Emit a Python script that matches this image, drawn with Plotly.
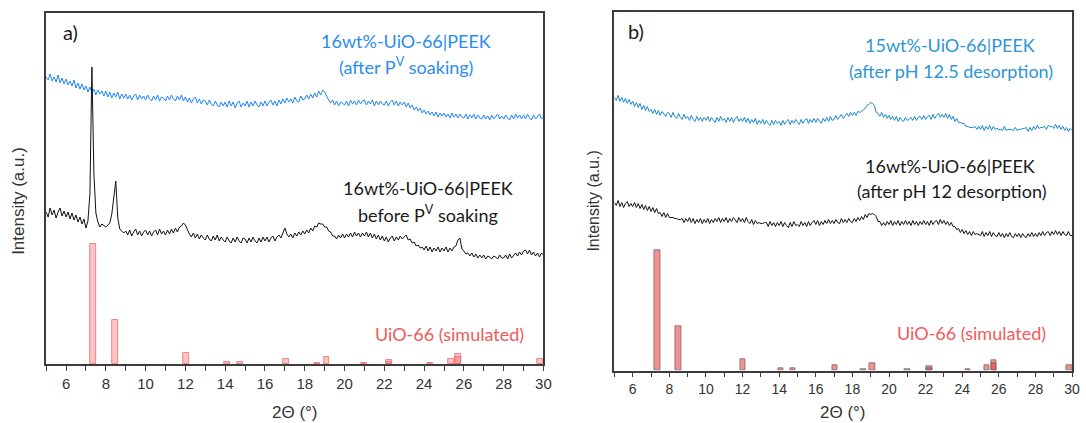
import numpy as np
import plotly.graph_objects as go

W, H = 1086, 423

# 2-theta sampling grid (degrees), 0.1 deg step
two_theta = np.round(np.linspace(5.0, 30.0, 251), 2)

# Panel a: 16wt%-UiO-66|PEEK after P(V) soaking (offset trace, a.u.)
a_after_soak = [
    287, 284, 290, 283, 287, 282, 289, 281, 286, 280,
    285, 279, 283, 278, 284, 276, 281, 275, 280, 274,
    278, 272, 277, 271, 275, 269, 274, 270, 273, 268,
    273, 267, 272, 266, 271, 267, 272, 265, 270, 266,
    270, 265, 269, 264, 268, 270, 264, 269, 265, 268,
    264, 269, 265, 263, 268, 264, 269, 263, 267, 266,
    263, 268, 264, 269, 265, 263, 268, 264, 269, 263,
    267, 262, 266, 261, 265, 267, 261, 265, 260, 264,
    263, 259, 264, 260, 258, 263, 259, 257, 262, 258,
    262, 257, 263, 258, 262, 256, 261, 263, 257, 261,
    258, 263, 257, 262, 258, 263, 259, 257, 262, 258,
    263, 258, 262, 264, 259, 263, 258, 264, 260, 265,
    261, 266, 262, 265, 261, 267, 263, 262, 268, 264,
    265, 269, 265, 270, 266, 271, 267, 273, 269, 274,
    272, 267, 264, 261, 264, 259, 263, 258, 262, 261,
    259, 263, 258, 264, 260, 263, 259, 264, 260, 263,
    264, 259, 263, 260, 264, 258, 263, 259, 263, 260,
    259, 263, 258, 262, 264, 259, 263, 258, 262, 259,
    262, 257, 261, 256, 259, 254, 257, 253, 256, 251,
    254, 250, 253, 249, 252, 248, 252, 247, 251, 248,
    251, 247, 250, 246, 251, 247, 250, 246, 250, 247,
    246, 250, 245, 249, 246, 250, 245, 249, 246, 245,
    249, 245, 248, 244, 249, 245, 248, 250, 245, 248,
    245, 249, 246, 244, 249, 245, 250, 246, 249, 245,
    249, 245, 250, 246, 244, 249, 245, 248, 250, 245,
    247,
]

# Panel a: 16wt%-UiO-66|PEEK before P(V) soaking
a_before_soak = [
    152, 147, 156, 149, 154, 146, 152, 156, 148, 153,
    147, 152, 145, 151, 144, 149, 142, 147, 140, 145,
    136, 143, 170, 297, 190, 151, 142, 137, 140, 138,
    137, 139, 141, 150, 170, 183, 146, 135, 133, 131,
    133, 129, 134, 128, 132, 135, 129, 133, 128, 132,
    134, 129, 133, 128, 132, 134, 129, 135, 130, 133,
    129, 134, 130, 135, 131, 136, 132, 137, 138, 141,
    139, 134, 130, 127, 131, 126, 130, 125, 129, 126,
    124, 129, 125, 123, 128, 124, 129, 123, 127, 124,
    122, 127, 123, 121, 126, 122, 127, 123, 121, 126,
    125, 121, 126, 122, 127, 123, 121, 126, 122, 127,
    123, 127, 122, 126, 128, 123, 127, 129, 126, 131,
    136, 130, 127, 130, 126, 131, 128, 132, 129, 133,
    130, 134, 131, 136, 133, 138, 137, 141, 140, 140,
    137, 137, 133, 132, 128, 128, 125, 129, 126, 130,
    126, 130, 127, 131, 127, 132, 128, 131, 127, 131,
    128, 132, 127, 131, 126, 130, 125, 129, 124, 128,
    123, 127, 122, 126, 128, 123, 127, 124, 128, 125,
    127, 129, 124, 125, 121, 122, 118, 119, 116, 117,
    114, 118, 113, 117, 112, 116, 113, 117, 112, 116,
    113, 117, 112, 116, 113, 117, 118, 124, 126, 115,
    113, 110, 111, 108, 111, 107, 110, 106, 109, 106,
    109, 105, 108, 107, 105, 108, 107, 105, 109, 106,
    106, 109, 105, 110, 106, 109, 111, 108, 112, 109,
    113, 114, 110, 114, 109, 112, 108, 111, 107, 111,
    109,
]

# Panel b: 15wt%-UiO-66|PEEK after pH 12.5 desorption
b_ph125 = [
    273, 270, 275, 269, 273, 268, 272, 267, 271, 266,
    269, 264, 268, 263, 267, 261, 265, 260, 264, 259,
    261, 257, 261, 256, 260, 255, 259, 256, 254, 258,
    257, 253, 258, 254, 252, 257, 253, 251, 256, 252,
    254, 250, 255, 251, 249, 254, 250, 253, 249, 253,
    250, 254, 249, 253, 250, 248, 253, 249, 254, 250,
    252, 248, 253, 249, 253, 248, 252, 254, 249, 252,
    249, 253, 248, 252, 247, 251, 248, 252, 246, 250,
    247, 251, 246, 250, 247, 245, 250, 246, 250, 247,
    249, 245, 250, 246, 249, 251, 246, 250, 247, 251,
    248, 246, 251, 247, 250, 252, 247, 251, 248, 252,
    248, 252, 249, 247, 252, 249, 253, 249, 254, 250,
    251, 255, 251, 254, 256, 252, 255, 257, 254, 258,
    255, 258, 255, 259, 258, 259, 261, 262, 265, 266,
    268, 267, 265, 258, 257, 254, 258, 253, 256, 252,
    255, 251, 254, 250, 254, 249, 253, 250, 249, 253,
    250, 251, 253, 250, 254, 250, 253, 254, 251, 255,
    251, 254, 255, 251, 256, 252, 255, 257, 253, 256,
    253, 257, 252, 256, 251, 254, 249, 252, 248, 248,
    247, 247, 244, 244, 243, 243, 243, 244, 241, 244,
    241, 245, 240, 244, 241, 245, 240, 244, 241, 242,
    241, 241, 240, 244, 240, 241, 241, 241, 240, 243,
    240, 241, 241, 242, 242, 243, 239, 243, 240, 244,
    241, 245, 242, 243, 243, 244, 241, 245, 244, 244,
    242, 246, 242, 245, 241, 244, 240, 243, 239, 242,
    240,
]

# Panel b: 16wt%-UiO-66|PEEK after pH 12 desorption
b_ph12 = [
    168, 165, 170, 164, 168, 163, 167, 169, 164, 167,
    164, 168, 163, 167, 162, 166, 161, 165, 160, 164,
    159, 163, 158, 162, 157, 158, 154, 158, 153, 157,
    153, 153, 153, 152, 152, 151, 151, 152, 148, 152,
    149, 153, 148, 152, 147, 151, 148, 152, 147, 151,
    148, 152, 147, 151, 148, 152, 149, 153, 148, 152,
    149, 153, 148, 152, 149, 153, 150, 148, 153, 149,
    152, 148, 153, 149, 147, 151, 146, 150, 147, 148,
    147, 147, 148, 148, 144, 149, 145, 148, 144, 148,
    145, 149, 144, 148, 145, 143, 148, 144, 149, 145,
    146, 144, 149, 145, 148, 144, 149, 145, 148, 150,
    146, 150, 145, 149, 146, 150, 147, 151, 147, 150,
    147, 151, 148, 147, 152, 148, 151, 148, 152, 149,
    148, 152, 149, 153, 150, 154, 151, 156, 153, 157,
    156, 157, 156, 154, 149, 149, 145, 148, 145, 149,
    146, 150, 145, 149, 146, 150, 145, 149, 146, 150,
    146, 149, 145, 150, 146, 149, 145, 149, 146, 150,
    146, 149, 145, 150, 146, 149, 150, 146, 151, 147,
    150, 146, 149, 145, 148, 144, 144, 141, 142, 138,
    141, 137, 140, 136, 139, 135, 139, 136, 137, 136,
    135, 139, 134, 138, 135, 139, 134, 138, 135, 134,
    138, 134, 137, 133, 137, 134, 138, 134, 133, 137,
    134, 137, 133, 137, 134, 133, 137, 134, 138, 134,
    137, 134, 138, 135, 139, 135, 138, 139, 135, 139,
    136, 140, 136, 139, 135, 139, 136, 135, 139, 135,
    135,
]

# Simulated UiO-66 reflections (position in 2-theta, intensity in a.u.)
sim_pos = [7.35, 8.49, 12.02, 14.1, 14.75, 17.05, 18.6, 19.1, 21.0,
           22.22, 22.22, 24.3, 25.35, 25.72, 25.72, 29.85]
sim_int = [120, 44, 11, 2, 2, 5, 1.5, 7, 1,
           4.5, 2.5, 1, 5, 10, 7.5, 5]

x_ticks_major = [6, 8, 10, 12, 14, 16, 18, 20, 22, 24, 26, 28, 30]

FONT_LABEL = "Lato, 'Open Sans', sans-serif"
FONT_AXIS = "Arial, 'Liberation Sans', sans-serif"


def px_x(p):
    return p / W


def px_y(p):
    return 1 - p / H


fig = go.Figure()

# ---- panel a ----
fig.add_trace(go.Bar(
    x=sim_pos, y=sim_int, width=0.3, xaxis="x", yaxis="y",
    marker=dict(color="rgba(240,70,70,0.32)",
                line=dict(color="rgba(230,120,120,0.85)", width=1)),
    showlegend=False))
fig.add_trace(go.Scatter(
    x=two_theta, y=a_after_soak, mode="lines", xaxis="x", yaxis="y",
    line=dict(color="#1f86f5", width=1), showlegend=False))
fig.add_trace(go.Scatter(
    x=two_theta, y=a_before_soak, mode="lines", xaxis="x", yaxis="y",
    line=dict(color="#111111", width=1), showlegend=False))

# ---- panel b ----
fig.add_trace(go.Bar(
    x=sim_pos, y=sim_int, width=0.3, xaxis="x2", yaxis="y2",
    marker=dict(color="rgba(235,55,55,0.55)",
                line=dict(color="rgba(120,100,100,0.8)", width=1)),
    showlegend=False))
fig.add_trace(go.Scatter(
    x=two_theta, y=b_ph125, mode="lines", xaxis="x2", yaxis="y2",
    line=dict(color="#1b87cc", width=1), showlegend=False))
fig.add_trace(go.Scatter(
    x=two_theta, y=b_ph12, mode="lines", xaxis="x2", yaxis="y2",
    line=dict(color="#111111", width=1), showlegend=False))


def x_axis(domain, anchor, size):
    return dict(
        domain=domain, anchor=anchor, range=[5, 30],
        showline=True, mirror=True, linecolor="#3c3c3c", linewidth=1.5,
        ticks="outside", ticklen=5, tickwidth=1.2, tickcolor="#3c3c3c",
        tickvals=x_ticks_major,
        minor=dict(ticks="outside", ticklen=5, tickwidth=1.2,
                   tickcolor="#3c3c3c", dtick=1, tick0=5),
        tickfont=dict(family=FONT_AXIS, size=size, color="#333333"),
        showgrid=False, zeroline=False, fixedrange=True)


def y_axis(domain, anchor, top):
    return dict(
        domain=domain, anchor=anchor, range=[0, top],
        showline=True, mirror=True, linecolor="#3c3c3c", linewidth=1.5,
        ticks="", showticklabels=False, showgrid=False, zeroline=False)


fig.update_layout(
    width=W, height=H, margin=dict(l=0, r=0, t=0, b=0),
    paper_bgcolor="white", plot_bgcolor="white",
    barmode="overlay", bargap=0,
    xaxis=x_axis([px_x(46.5), px_x(547.5)], "y", 15),
    yaxis=y_axis([px_y(364), px_y(13)], "x", 351),
    xaxis2=x_axis([px_x(619), px_x(1080)], "y2", 14),
    yaxis2=y_axis([px_y(370.7), px_y(12.3)], "x2", 358),
)

BLUE_A = "#2a8cf2"
BLUE_B = "#2e95d5"
RED = "#f25a5a"
BLACK = "#1a1a1a"

labels = [
    # (text, x px, y px, colour, size, family, angle)
    ("a)", 71, 32, BLACK, 20, FONT_LABEL, 0),
    ("16wt%-UiO-66|PEEK", 409, 41, BLUE_A, 18, FONT_LABEL, 0),
    ("(after P<sup>V</sup> soaking)", 409, 66, BLUE_A, 18, FONT_LABEL, 0),
    ("16wt%-UiO-66|PEEK", 431, 188, BLACK, 18, FONT_LABEL, 0),
    ("before P<sup>V</sup> soaking", 431, 214, BLACK, 18, FONT_LABEL, 0),
    ("UiO-66 (simulated)", 453, 334, RED, 18, FONT_LABEL, 0),
    ("b)", 641, 31, BLACK, 20, FONT_LABEL, 0),
    ("15wt%-UiO-66|PEEK", 957, 45, BLUE_B, 18, FONT_LABEL, 0),
    ("(after pH 12.5 desorption)", 958, 71, BLUE_B, 18, FONT_LABEL, 0),
    ("16wt%-UiO-66|PEEK", 957, 166, BLACK, 18, FONT_LABEL, 0),
    ("(after pH 12 desorption)", 959, 191, BLACK, 18, FONT_LABEL, 0),
    ("UiO-66 (simulated)", 979, 333, RED, 18, FONT_LABEL, 0),
    ("Intensity (a.u.)", 18, 201, "#333333", 17, FONT_AXIS, -90),
    ("Intensity (a.u.)", 597, 201, "#333333", 16, FONT_AXIS, -90),
    ("2\u0398 (\u00b0)", 297, 412, "#333333", 17, FONT_AXIS, 0),
    ("2\u0398 (\u00b0)", 849.5, 412, "#333333", 17, FONT_AXIS, 0),
]

for text, xp, yp, col, size, fam, ang in labels:
    fig.add_annotation(
        text=text, x=px_x(xp), y=px_y(yp), xref="paper", yref="paper",
        xanchor="center", yanchor="middle", showarrow=False,
        textangle=ang, font=dict(family=fam, size=size, color=col))

fig.write_html("out.html")
